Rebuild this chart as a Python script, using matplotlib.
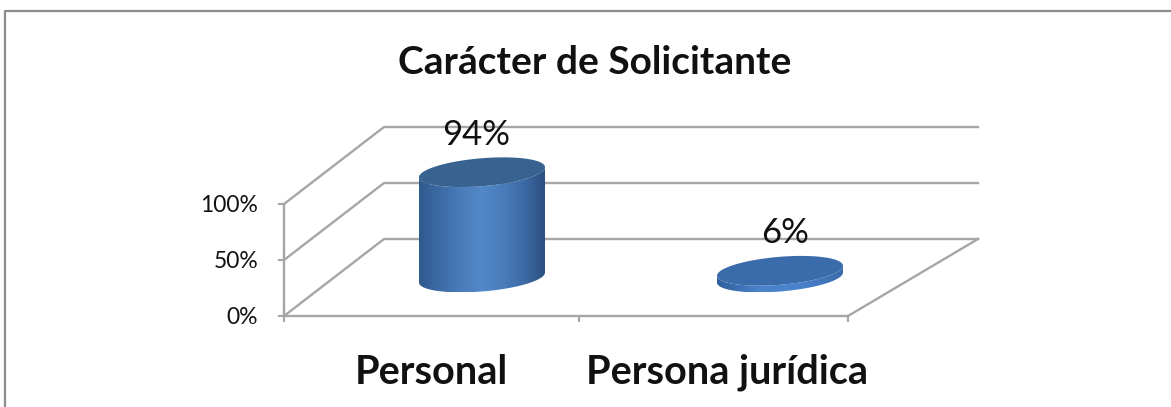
import numpy as np
from matplotlib import pyplot as plt
from matplotlib.colors import LinearSegmentedColormap
from matplotlib.patches import Polygon

title = "Carácter de Solicitante"
categories = ["Personal", "Persona jurídica"]
values = [94, 6]
value_labels = ["94%", "6%"]
y_ticks = [0, 50, 100]
y_tick_labels = ["0%", "50%", "100%"]

W, H = 1171, 407
plt.rcParams['font.family'] = ['Lato', 'DejaVu Sans']

# front face of the box in pixels
left, right, floor, top = 284, 848, 316, 204
# depth of the box, pixels
depth_x, depth_y = 100, 77

fig = plt.figure(figsize=(W / 100, H / 100), dpi=100)
ax = fig.add_axes([left / W, 1 - floor / H, (right - left) / W, (floor - top) / H])
ax.set_xlim(0, 2)
ax.set_ylim(0, 100)
ax.patch.set_visible(False)

ux = 2 / (right - left)   # data units per pixel
uy = 100 / (floor - top)
dx = depth_x * ux
dy = depth_y * uy
grid = "#a6a6a6"
back_extra = 30 * ux      # back wall is a bit wider than the front


# walls: grid lines back and sides
for v in y_ticks:
    ax.plot([0, dx, 2 + back_extra + dx], [v, v + dy, v + dy], color=grid, lw=1.7,
            clip_on=False, zorder=1)
# floor right side
ax.plot([2, 2 + back_extra + dx], [0, dy], color=grid, lw=1.7, clip_on=False, zorder=1)

for s in ["top", "right"]:
    ax.spines[s].set_visible(False)
for s in ["left", "bottom"]:
    ax.spines[s].set_color(grid)
    ax.spines[s].set_linewidth(1.7)

ax.set_yticks(y_ticks)
ax.set_yticklabels(y_tick_labels, fontsize=16.5, color="#111111")
ax.tick_params(axis="y", length=4.5, width=1.5, color=grid, pad=14)

# category boundaries as major ticks, names on minor ticks
ax.set_xticks([0, 1 + 13 * ux, 2])
ax.set_xticklabels([])
ax.tick_params(axis="x", which="major", length=4.5, width=1.5, color=grid)
centres = [(431 - left) * ux, (727 - left) * ux]
ax.set_xticks(centres, minor=True)
ax.set_xticklabels(categories, minor=True, fontsize=28.5, fontweight="bold", color="#111111")
ax.tick_params(axis="x", which="minor", length=0, pad=27)

side_cmap = LinearSegmentedColormap.from_list(
    "side", ["#2f5a8e", "#3d6ba6", "#4a7cbb", "#5388c8", "#4a7cbb", "#3d6ba6", "#2c5080"])
disc_side_cmap = LinearSegmentedColormap.from_list(
    "disc", ["#2f5f9c", "#4a82cc", "#4a82cc", "#3a6cab"])

rx = 63 * ux     # half width
ry = 14 * uy     # half height of the ellipse
tilt = 5 * uy    # the ellipse leans up to the right
t = np.linspace(0, 2 * np.pi, 181)


def ellipse(cx, cy):
    return cx + rx * np.cos(t), cy + ry * np.sin(t) + tilt * np.cos(t)


def cylinder(cx, value, top_color, cmap):
    base = dy * 0.5
    ex, ey = ellipse(cx, base + value)
    bx, by = ellipse(cx, base)
    # outline of the side: lower half of base plus lower half of the top
    lo = (t >= np.pi) & (t <= 2 * np.pi)
    px = np.r_[bx[lo], ex[lo][::-1]]
    py = np.r_[by[lo], ey[lo][::-1]]
    side = Polygon(np.c_[px, py], closed=True, fc="none", ec="none", zorder=3, clip_on=False)
    ax.add_patch(side)
    grad = np.linspace(0, 1, 256).reshape(1, -1)
    im = ax.imshow(grad, cmap=cmap, aspect="auto", zorder=3,
                   extent=[cx - rx, cx + rx, by.min(), ey.max()])
    im.set_clip_box(fig.bbox)
    im.set_clip_path(side)
    ax.fill(ex, ey, color=top_color, lw=0, zorder=4, clip_on=False)


bar_x = [(482 - left) * ux, (780 - left) * ux]
cylinder(bar_x[0], values[0], "#38628f", side_cmap)
cylinder(bar_x[1], values[1], "#3a6cab", disc_side_cmap)
ax.set_xlim(0, 2)
ax.set_ylim(0, 100)

# data labels
label_dx = [-5.5, 5]
label_dy = [7, 8]
for x, v, s, ox, oy in zip(bar_x, values, value_labels, label_dx, label_dy):
    ax.text(x + ox * ux, dy * 0.5 + v + ry + oy * uy, s, fontsize=25, ha="center", va="bottom",
            color="#111111", zorder=5, clip_on=False)

fig.text(595 / W, 1 - 63 / H, title, fontsize=28, fontweight="bold", ha="center", va="center",
         color="#111111")

# outer frame
fig.add_artist(plt.Line2D([5.5 / W, 5.5 / W, 1], [0, 1 - 10.5 / H, 1 - 10.5 / H],
                          color="#8c8c8c", lw=1.6))

fig.savefig("out.png", dpi=100)
